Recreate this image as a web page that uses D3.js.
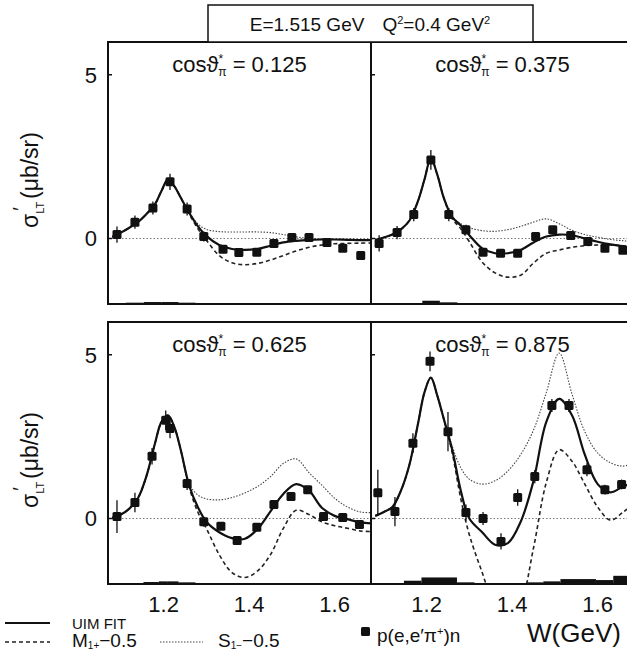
<!DOCTYPE html>
<html>
<head>
<meta charset="utf-8">
<script src="https://cdn.jsdelivr.net/npm/d3@7"></script>
<style>
  body { margin: 0; background: #fff; }
  text { font-family: "Liberation Sans", Arial, sans-serif; fill: #111; }
</style>
</head>
<body>
<script>
var width = 627, height = 651, panelW = 263, panelH = 262;

// W grid (GeV) the model curves were read at
var curveW = [1.08,1.10,1.12,1.14,1.16,1.18,1.195,1.21,1.225,1.24,1.26,1.28,1.30,1.33,1.36,1.39,1.42,1.45,1.48,1.51,1.54,1.57,1.60,1.63,1.66,1.685];

var cosLabels = ["0.125", "0.375", "0.625", "0.875"];

// UIM fit, M1+ -0.5, S1- -0.5  (one array per panel)
var fit125 = [0.05,0.18,0.33,0.5,0.75,1.05,1.45,1.8,1.6,1.25,0.78,0.38,0.08,-0.2,-0.32,-0.35,-0.32,-0.22,-0.12,-0.07,-0.04,-0.03,-0.03,-0.04,-0.05,-0.05];
var m1p125 = [0.05,0.18,0.33,0.5,0.75,1.05,1.45,1.8,1.6,1.25,0.75,0.3,-0.05,-0.52,-0.74,-0.8,-0.76,-0.66,-0.52,-0.38,-0.27,-0.2,-0.16,-0.15,-0.14,-0.14];
var s1m125 = [0.05,0.18,0.33,0.5,0.75,1.05,1.45,1.8,1.6,1.25,0.8,0.45,0.28,0.21,0.2,0.2,0.2,0.18,0.12,0.05,0.0,-0.02,-0.03,-0.04,-0.05,-0.05];

var fit375 = [-0.05,0.03,0.12,0.28,0.55,1.15,1.8,2.45,1.95,1.25,0.65,0.4,0.1,-0.3,-0.45,-0.45,-0.35,-0.12,0.06,0.12,0.1,0.0,-0.1,-0.18,-0.24,-0.27];
var m1p375 = [-0.05,0.03,0.12,0.28,0.55,1.15,1.8,2.45,1.95,1.25,0.6,0.3,-0.1,-0.72,-1.05,-1.18,-1.12,-0.75,-0.45,-0.35,-0.27,-0.22,-0.2,-0.2,-0.22,-0.25];
var s1m375 = [-0.05,0.03,0.12,0.28,0.55,1.15,1.8,2.45,1.95,1.25,0.68,0.45,0.33,0.24,0.22,0.27,0.37,0.5,0.6,0.45,0.25,0.12,0.04,-0.03,-0.07,-0.1];

var fit625 = [0.02,0.12,0.3,0.62,1.3,2.3,2.95,3.15,2.8,2.1,1.0,0.35,-0.1,-0.42,-0.6,-0.62,-0.32,0.22,0.75,1.05,0.85,0.33,0.08,-0.02,-0.12,-0.15];
var m1p625 = [0.02,0.12,0.3,0.62,1.3,2.3,2.95,3.15,2.8,2.1,0.95,0.2,-0.3,-1.1,-1.65,-1.8,-1.6,-1.1,-0.3,0.25,0.12,-0.1,-0.22,-0.3,-0.38,-0.4];
var s1m625 = [0.02,0.12,0.3,0.62,1.3,2.3,2.95,3.15,2.8,2.1,1.05,0.72,0.6,0.57,0.64,0.78,0.98,1.28,1.68,1.82,1.4,1.02,0.62,0.35,0.2,0.18];

var fit875 = [0.08,0.2,0.35,0.85,1.65,2.9,3.85,4.3,3.75,3.05,2.1,0.85,0.0,-0.42,-0.8,-0.75,-0.1,1.15,2.95,3.65,3.15,1.95,1.05,0.8,0.98,1.1];
var m1p875 = [0.08,0.2,0.35,0.85,1.65,2.9,3.85,4.3,3.75,3.05,2.0,0.6,-0.5,-1.65,-2.7,-3.1,-2.6,-0.9,1.1,2.1,1.75,1.05,0.35,-0.05,0.2,0.45];
var s1m875 = [0.08,0.2,0.35,0.85,1.65,2.9,3.85,4.3,3.75,3.05,2.2,1.55,1.2,1.05,1.15,1.45,1.95,2.7,3.85,5.05,3.8,2.65,2.0,1.7,1.6,1.7];

// p(e,e'pi+)n data
var w125 = [1.091,1.133,1.175,1.215,1.255,1.294,1.339,1.376,1.418,1.458,1.5,1.54,1.582,1.619,1.661];
var y125 = [0.12,0.5,0.93,1.73,0.9,0.06,-0.33,-0.43,-0.42,-0.15,0.03,0.03,-0.12,-0.3,-0.52];
var e125 = [0.25,0.2,0.2,0.25,0.2,0.15,0.1,0.1,0.1,0.1,0.1,0.1,0.1,0.1,0.1];
var sys125 = [0,0.04,0.06,0.06,0.04,0,0,0,0,0,0,0,0,0,0];

var w375 = [1.089,1.131,1.17,1.21,1.252,1.292,1.332,1.373,1.413,1.455,1.495,1.537,1.577,1.617,1.659];
var y375 = [-0.15,0.18,0.73,2.4,0.73,0.27,-0.42,-0.45,-0.45,0.06,0.27,0.09,-0.09,-0.3,-0.36];
var e375 = [0.25,0.2,0.2,0.3,0.2,0.15,0.1,0.1,0.1,0.1,0.1,0.1,0.1,0.1,0.1];
var sys375 = [0,0,0.03,0.1,0.05,0,0,0,0,0,0,0,0,0.02,0];

var w625 = [1.091,1.133,1.173,1.205,1.215,1.255,1.294,1.334,1.372,1.418,1.458,1.498,1.537,1.574,1.619,1.658];
var y625 = [0.06,0.49,1.9,3.0,2.75,1.07,-0.1,-0.24,-0.67,-0.27,0.43,0.67,0.88,0.06,0.03,-0.18];
var e625 = [0.5,0.3,0.25,0.3,0.3,0.2,0.15,0.1,0.1,0.1,0.1,0.1,0.1,0.1,0.1,0.1];
var sys625 = [0,0.03,0.06,0.08,0.08,0.05,0,0,0,0,0,0,0,0,0,0];

var w875 = [1.086,1.126,1.168,1.208,1.25,1.292,1.332,1.374,1.413,1.453,1.493,1.533,1.575,1.617,1.656];
var y875 = [0.79,0.21,2.3,4.8,2.65,0.18,0.0,-0.7,0.64,1.28,3.45,3.45,1.49,0.88,1.04];
var e875 = [0.7,0.45,0.3,0.3,0.6,0.25,0.2,0.25,0.25,0.2,0.2,0.2,0.2,0.15,0.15];
var sys875 = [0,0,0.1,0.2,0.2,0.05,0,0,0,0.05,0.08,0.15,0.15,0.12,0.25];

var xTicks = [1.2, 1.4, 1.6];
var yTicks = [0, 5];

var panels = [
  { x0: 108, y0: 42,  cos: cosLabels[0], fit: fit125, m1p: m1p125, s1m: s1m125, w: w125, y: y125, e: e125, sys: sys125, left: true,  bottom: false },
  { x0: 371, y0: 42,  cos: cosLabels[1], fit: fit375, m1p: m1p375, s1m: s1m375, w: w375, y: y375, e: e375, sys: sys375, left: false, bottom: false },
  { x0: 108, y0: 322, cos: cosLabels[2], fit: fit625, m1p: m1p625, s1m: s1m625, w: w625, y: y625, e: e625, sys: sys625, left: true,  bottom: true },
  { x0: 371, y0: 322, cos: cosLabels[3], fit: fit875, m1p: m1p875, s1m: s1m875, w: w875, y: y875, e: e875, sys: sys875, left: false, bottom: true }
];

var svg = d3.select("body")
    .append("svg")
    .attr("width", width)
    .attr("height", height);

panels.forEach(function(p, i) {
  var x = d3.scaleLinear().domain([1.07, 1.685]).range([p.x0, p.x0 + panelW]);
  var y = d3.scaleLinear().domain([-2, 6]).range([p.y0 + panelH, p.y0]);

  svg.append("clipPath").attr("id", "clip" + i)
    .append("rect")
    .attr("x", p.x0).attr("y", p.y0)
    .attr("width", panelW).attr("height", panelH);

  var g = svg.append("g").attr("clip-path", "url(#clip" + i + ")");

  // zero line
  g.append("line")
    .attr("x1", p.x0).attr("x2", p.x0 + panelW)
    .attr("y1", y(0)).attr("y2", y(0))
    .attr("stroke", "#777").attr("stroke-width", 1)
    .attr("stroke-dasharray", "1.5,2");

  // systematic error bands on the bottom axis
  g.selectAll(".sys").data(p.w).enter().append("rect")
    .attr("x", function(d, j) { return x(j ? (d + p.w[j - 1]) / 2 : d - 0.02); })
    .attr("width", function(d, j) {
      var a = j ? (d + p.w[j - 1]) / 2 : d - 0.02;
      var b = j < p.w.length - 1 ? (d + p.w[j + 1]) / 2 : d + 0.02;
      return x(b) - x(a);
    })
    .attr("y", function(d, j) { return y(-2 + p.sys[j]); })
    .attr("height", function(d, j) { return y(-2) - y(-2 + p.sys[j]); })
    .attr("fill", "#111");

  var line = d3.line()
    .x(function(d, j) { return x(curveW[j]); })
    .y(function(d) { return y(d); })
    .curve(d3.curveCatmullRom.alpha(0.5));

  g.append("path").attr("d", line(p.s1m))
    .attr("fill", "none").attr("stroke", "#444").attr("stroke-width", 1.1)
    .attr("stroke-dasharray", "1.5,1.5");
  g.append("path").attr("d", line(p.m1p))
    .attr("fill", "none").attr("stroke", "#222").attr("stroke-width", 1.6)
    .attr("stroke-dasharray", "4,3");
  g.append("path").attr("d", line(p.fit))
    .attr("fill", "none").attr("stroke", "#111").attr("stroke-width", 2.2);

  // error bars
  g.selectAll(".err").data(p.w).enter().append("line")
    .attr("x1", function(d) { return x(d); })
    .attr("x2", function(d) { return x(d); })
    .attr("y1", function(d, j) { return y(p.y[j] - p.e[j]); })
    .attr("y2", function(d, j) { return y(p.y[j] + p.e[j]); })
    .attr("stroke", "#111").attr("stroke-width", 1.3);

  // data squares
  g.selectAll(".pt").data(p.w).enter().append("rect")
    .attr("x", function(d) { return x(d) - 4.5; })
    .attr("y", function(d, j) { return y(p.y[j]) - 4.5; })
    .attr("width", 9).attr("height", 9)
    .attr("rx", 1.5)
    .attr("fill", "#111");

  // frame
  svg.append("rect")
    .attr("x", p.x0).attr("y", p.y0)
    .attr("width", panelW).attr("height", panelH)
    .attr("fill", "none").attr("stroke", "#111").attr("stroke-width", 2);

  // small inward ticks
  svg.selectAll(null).data(yTicks).enter().append("line")
    .attr("x1", p.x0).attr("x2", p.x0 + 4)
    .attr("y1", function(d) { return y(d); })
    .attr("y2", function(d) { return y(d); })
    .attr("stroke", "#111").attr("stroke-width", 1.5);

  var lab = svg.append("text")
    .attr("x", p.x0 + panelW / 2).attr("y", p.y0 + 30)
    .attr("text-anchor", "middle")
    .style("font-size", "22px");
  lab.append("tspan").text("cos\u03d1");
  lab.append("tspan").attr("dy", -9).style("font-size", "12px").text("*");
  lab.append("tspan").attr("dx", -5).attr("dy", 13).style("font-size", "12px").text("\u03c0");
  lab.append("tspan").attr("dy", -4).text(" = " + p.cos);

  if (p.left) {
    svg.selectAll(null).data(yTicks).enter().append("text")
      .attr("x", 97).attr("y", function(d) { return y(d); })
      .attr("dy", "0.36em")
      .attr("text-anchor", "end")
      .style("font-size", "22px")
      .text(function(d) { return d; });

    var yl = svg.append("text")
      .attr("transform", "translate(38," + (p.y0 + 138) + ") rotate(-90)")
      .attr("text-anchor", "middle")
      .style("font-size", "23px");
    yl.append("tspan").text("\u03c3");
    yl.append("tspan").attr("dy", 6).style("font-size", "11px").text("LT");
    yl.append("tspan").attr("dx", -9).attr("dy", -17).style("font-size", "20px").text("\u2032");
    yl.append("tspan").attr("dx", 8).attr("dy", 11).text("(\u03bcb/sr)");
  }

  if (p.bottom) {
    svg.selectAll(null).data(xTicks).enter().append("text")
      .attr("x", function(d) { return x(d); })
      .attr("y", 612)
      .attr("text-anchor", "middle")
      .style("font-size", "22px")
      .text(function(d) { return d.toFixed(1); });
  }
});

// title box
svg.append("rect")
  .attr("x", 208).attr("y", 5).attr("width", 325).attr("height", 37)
  .attr("fill", "#fff").attr("stroke", "#111").attr("stroke-width", 1.5);
var title = svg.append("text")
  .attr("x", 370).attr("y", 31)
  .attr("text-anchor", "middle")
  .style("font-size", "19px");
title.append("tspan").text("E=1.515 GeV");
title.append("tspan").attr("dx", 18).text("Q");
title.append("tspan").attr("dy", -7).style("font-size", "11px").text("2");
title.append("tspan").attr("dy", 7).text("=0.4 GeV");
title.append("tspan").attr("dy", -7).style("font-size", "11px").text("2");

// legend
svg.append("line").attr("x1", 5).attr("x2", 50).attr("y1", 623).attr("y2", 623)
  .attr("stroke", "#111").attr("stroke-width", 2);
svg.append("text").attr("x", 72).attr("y", 629).style("font-size", "15px").text("UIM FIT");

svg.append("line").attr("x1", 5).attr("x2", 50).attr("y1", 642).attr("y2", 642)
  .attr("stroke", "#222").attr("stroke-width", 1.6).attr("stroke-dasharray", "4,3");
var lm = svg.append("text").attr("x", 72).attr("y", 647).style("font-size", "19px");
lm.append("tspan").text("M");
lm.append("tspan").attr("dy", 2).style("font-size", "10px").text("1+");
lm.append("tspan").attr("dy", -2).text("\u22120.5");

svg.append("line").attr("x1", 160).attr("x2", 203).attr("y1", 642).attr("y2", 642)
  .attr("stroke", "#444").attr("stroke-width", 1.1).attr("stroke-dasharray", "1.5,1.5");
var ls = svg.append("text").attr("x", 218).attr("y", 647).style("font-size", "19px");
ls.append("tspan").text("S");
ls.append("tspan").attr("dy", 2).style("font-size", "10px").text("1\u2212");
ls.append("tspan").attr("dy", -2).text("\u22120.5");

svg.append("rect").attr("x", 361).attr("y", 627).attr("width", 9).attr("height", 9)
  .attr("rx", 1.5).attr("fill", "#111");
var lp = svg.append("text").attr("x", 377).attr("y", 642).style("font-size", "19px");
lp.append("tspan").text("p(e,e\u2032\u03c0");
lp.append("tspan").attr("dy", -7).style("font-size", "11px").text("+");
lp.append("tspan").attr("dy", 7).text(")n");

svg.append("text").attr("x", 527).attr("y", 642).style("font-size", "26px").text("W(GeV)");
</script>
</body>
</html>
